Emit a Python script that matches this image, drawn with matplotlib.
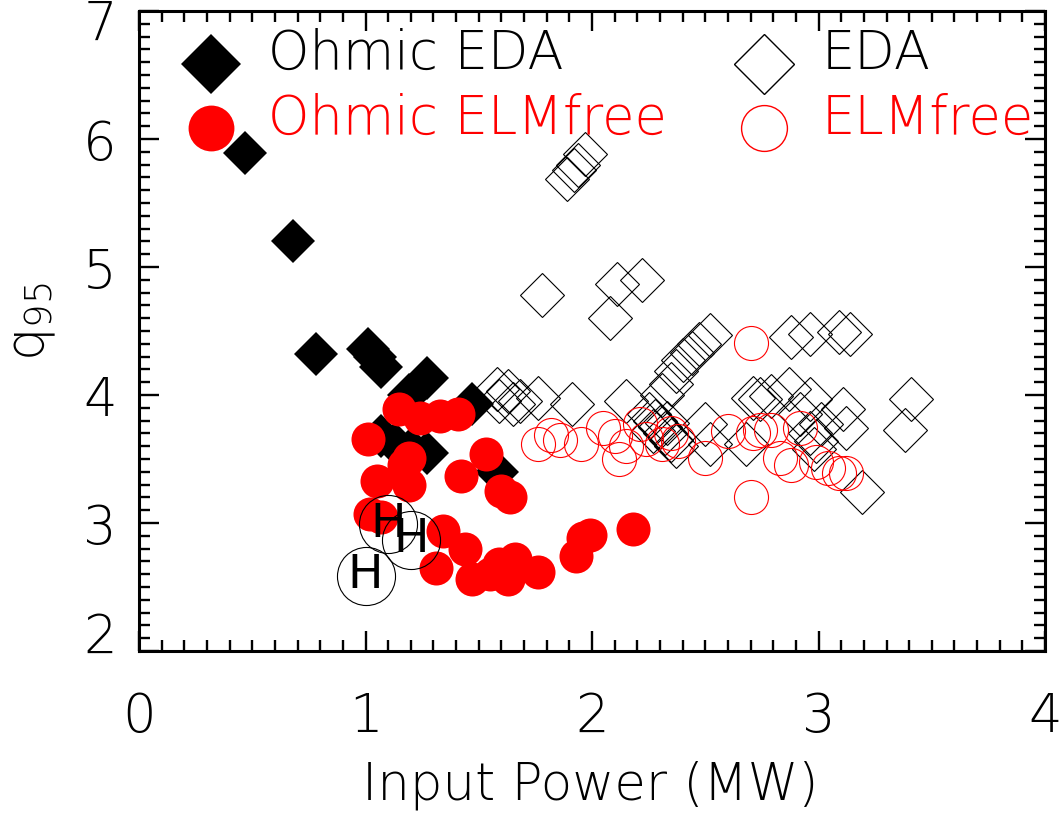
import matplotlib
matplotlib.use("Agg")
import matplotlib.pyplot as plt
import matplotlib.transforms as mtransforms
from matplotlib.ticker import MultipleLocator

plt.rcParams["font.family"] = ["DejaVu Sans"]
plt.rcParams["font.weight"] = 200
plt.rcParams["mathtext.default"] = "regular"

# Ohmic EDA (filled diamonds)
ohm_eda_p = [0.47, 0.68, 0.78, 1.01, 1.04, 1.07, 1.27, 1.19, 1.47,
             1.07, 1.13, 1.20, 1.27, 1.58]
ohm_eda_q = [5.89, 5.20, 4.32, 4.36, 4.30, 4.22, 4.13, 4.00, 3.93,
             3.68, 3.62, 3.58, 3.55, 3.40]

# Ohmic ELM-free (filled circles)
ohm_elm_p = [1.15, 1.24, 1.33, 1.41, 1.01, 1.19, 1.17, 1.05, 1.19, 1.02, 1.07,
             1.42, 1.53, 1.60, 1.64,
             1.34, 1.31, 1.44, 1.47, 1.59, 1.63, 1.66, 1.76, 1.55,
             1.93, 1.96, 1.99, 2.18]
ohm_elm_q = [3.89, 3.82, 3.84, 3.85, 3.66, 3.51, 3.45, 3.33, 3.30, 3.07, 3.05,
             3.37, 3.54, 3.25, 3.20,
             2.94, 2.65, 2.80, 2.56, 2.68, 2.56, 2.72, 2.62, 2.60,
             2.74, 2.88, 2.91, 2.95]

# auxiliary-heated EDA (open diamonds)
eda_p = [1.58, 1.63, 1.59, 1.65, 1.68, 1.76, 1.91, 2.15,
         1.78, 2.11, 2.22, 2.08,
         1.89, 1.92, 1.94, 1.97,
         2.52, 2.47, 2.44, 2.40, 2.37, 2.35, 2.31,
         2.25, 2.28, 2.30, 2.32, 2.35, 2.37, 2.33, 2.27,
         2.50, 2.52, 2.68, 2.74, 2.79, 2.87, 2.96, 3.11,
         3.12, 3.01, 2.96, 2.99, 3.41, 3.38, 3.19,
         2.88, 2.96, 3.09, 3.14,
         2.71, 2.92, 2.98]
eda_q = [4.05, 4.03, 3.95, 3.93, 3.95, 3.98, 3.93, 3.95,
         4.78, 4.87, 4.90, 4.60,
         5.69, 5.76, 5.80, 5.88,
         4.47, 4.40, 4.33, 4.27, 4.19, 4.09, 4.00,
         3.85, 3.80, 3.75, 3.70, 3.65, 3.60, 3.78, 3.72,
         3.77, 3.62, 3.62, 3.97, 3.99, 4.05, 3.97, 3.89,
         3.74, 3.77, 3.70, 3.64, 3.97, 3.73, 3.24,
         4.45, 4.48, 4.49, 4.48,
         3.98, 3.85, 3.58]

# auxiliary-heated ELM-free (open circles)
elm_p = [1.76, 1.82, 1.86, 1.95, 2.05, 2.10, 2.12, 2.15, 2.21, 2.24, 2.31,
         2.35, 2.38, 2.50, 2.60, 2.71, 2.74, 2.79, 2.92, 2.83, 2.88, 2.99,
         3.04, 3.09, 3.12, 2.70, 2.70]
elm_q = [3.62, 3.69, 3.65, 3.62, 3.74, 3.68, 3.50, 3.60, 3.77, 3.66, 3.62,
         3.70, 3.64, 3.51, 3.72, 3.70, 3.73, 3.73, 3.74, 3.51, 3.45, 3.48,
         3.43, 3.39, 3.39, 4.41, 3.20]

# H-mode points marked with an "H"
hmode_p = [1.10, 1.20, 1.00]
hmode_q = [2.99, 2.87, 2.59]

RED = "#ff0000"
fig = plt.figure(figsize=(10.61, 8.14), dpi=100)
ax = fig.add_axes([0.131, 0.2002, 0.854, 0.7862])

ax.plot(eda_p, eda_q, "D", ls="none", ms=22.4, mfc="none", mec="black", mew=0.8)
ax.plot(elm_p, elm_q, "o", ls="none", ms=24.5, mfc="none", mec=RED, mew=0.8)
ax.plot(ohm_eda_p, ohm_eda_q, "D", ls="none", ms=22.4, mfc="black", mec="black", mew=0)
ax.plot(ohm_elm_p, ohm_elm_q, "o", ls="none", ms=24.5, mfc=RED, mec=RED, mew=0)
ax.plot(hmode_p, hmode_q, "o", ls="none", ms=41.8, mfc="none", mec="black", mew=0.8)
for p, q in zip(hmode_p, hmode_q):
    ax.text(p, q, "H", ha="center", va="center", fontsize=34, fontweight="normal")

# legend drawn in data space
ax.plot([0.32], [6.59], "D", ms=30.5, mfc="black", mec="black", mew=0)
ax.plot([0.32], [6.09], "o", ms=33, mfc=RED, mec=RED, mew=0)
ax.plot([2.76], [6.59], "D", ms=30.5, mfc="none", mec="black", mew=1.0)
ax.plot([2.76], [6.09], "o", ms=33, mfc="none", mec=RED, mew=1.0)
ax.text(0.568, 6.547, "Ohmic EDA", fontsize=38, color="black", va="baseline")
ax.text(0.568, 6.039, "Ohmic ELMfree", fontsize=38, color=RED, va="baseline")
ax.text(3.013, 6.547, "EDA", fontsize=38, color="black", va="baseline")
ax.text(3.013, 6.039, "ELMfree", fontsize=38, color=RED, va="baseline")

ax.set_xlim(0, 4)
ax.set_ylim(2, 7)
ax.xaxis.set_major_locator(MultipleLocator(1))
ax.xaxis.set_minor_locator(MultipleLocator(0.1))
ax.yaxis.set_major_locator(MultipleLocator(1))
ax.yaxis.set_minor_locator(MultipleLocator(0.1))
ax.tick_params(which="both", direction="in", top=True, right=True, width=1.7)
ax.tick_params(which="major", length=14.4, labelsize=38)
ax.tick_params(which="minor", length=8)
ax.tick_params(axis="x", which="major", pad=29)
ax.tick_params(axis="y", which="major", pad=16)
for s in ax.spines.values():
    s.set_linewidth(2.2)

fig.text(0.556, 1 - 800 / 814, "Input Power (MW)", fontsize=37,
         ha="center", va="baseline")
fig.text(32 / 1061, 1 - 322 / 814, "q$_{95}$", fontsize=38, rotation=90,
         ha="center", va="center")

# end labels sit inside the axis range: bottom one raised, top one lowered
fig.canvas.draw()
for tick in ax.yaxis.get_major_ticks():
    loc = tick.get_loc()
    if loc is None:
        continue
    dy = 19 if abs(loc - 2) < 1e-6 else (-8 if abs(loc - 7) < 1e-6 else 0)
    if dy:
        off = mtransforms.ScaledTranslation(0, dy / 100, fig.dpi_scale_trans)
        tick.label1.set_transform(tick.label1.get_transform() + off)

fig.savefig("out.png", dpi=100)
